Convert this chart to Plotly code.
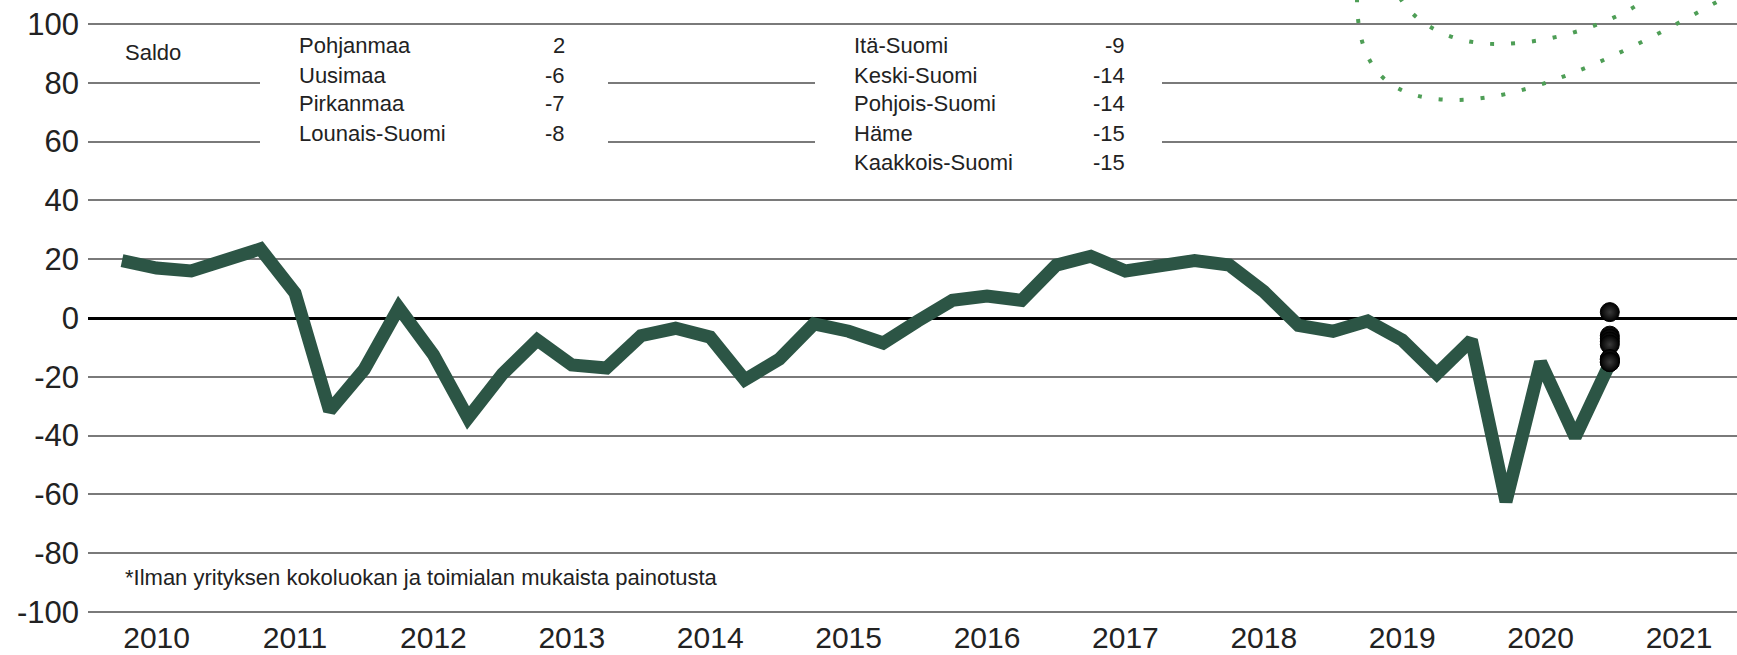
import plotly.graph_objects as go

# ---------------- data ----------------
years = list(range(2010, 2021))
periods = [f"{y}Q{q}" for y in years for q in range(1, 5)]
saldo = [19.5, 17, 16, 20, 23.5, 8.5, -31.5, -17.5, 3.5, -12.5, -34, -19,
         -7.5, -16, -17, -6, -3.5, -6.5, -21, -14, -2, -4.5, -8.5, -1,
         6, 7.5, 6, 18, 21, 16, 18, 19.5, 18, 9, -2.5, -4.5,
         -1, -7.5, -19, -7.5, -62.5, -15, -40.5, -15.5]
regions = ["Pohjanmaa", "Uusimaa", "Pirkanmaa", "Lounais-Suomi",
           "Itä-Suomi", "Keski-Suomi", "Pohjois-Suomi", "Häme", "Kaakkois-Suomi"]
region_values = [2, -6, -7, -8, -9, -14, -14, -15, -15]
tick_years = [str(y) for y in range(2010, 2022)]
y_ticks = list(range(-100, 101, 20))
y_ticktext = [str(v) for v in y_ticks]

# ---------------- geometry helpers ----------------
W, H = 1737, 655
ML, MR, MT, MB = 88, 0, 20, 40
PW, PH = W - ML - MR, H - MT - MB
K_Y = 2.94      # px per y unit
Y_ZERO = 318    # pixel row of value 0
K_X = 34.6      # px per quarter
X_FIRST = 122   # pixel column of first data point


def px(x):
    return (x - ML) / PW


def py(y):
    return 1 - (y - MT) / PH


FONT = "Liberation Sans, Arial, sans-serif"
TXT = "#222222"

xs = list(range(len(saldo)))
last_x = xs[-1]

fig = go.Figure()
fig.add_trace(go.Scatter(
    x=xs, y=saldo, mode="lines",
    line=dict(color="#2c5545", width=13),
    hoverinfo="skip", showlegend=False))
fig.add_trace(go.Scatter(
    x=[last_x] * len(region_values), y=region_values, mode="markers",
    marker=dict(size=19, color="#000000",
                gradient=dict(type="radial", color="#3a3a3a"),
                line=dict(color="#000000", width=1)),
    hoverinfo="skip", showlegend=False))

shapes = []
# white boxes behind the text blocks (they interrupt the gridlines)
for (x0, x1, y0, y1) in [(260, 608, 33, 152), (815, 1162, 33, 178)]:
    shapes.append(dict(type="rect", xref="paper", yref="paper",
                       x0=px(x0), x1=px(x1), y0=py(y1), y1=py(y0),
                       fillcolor="white", line=dict(width=0), layer="above"))


def bez_path(pts):
    (sx, sy) = pts[0]
    s = f"M {px(sx)},{py(sy)}"
    for i in range(1, len(pts), 3):
        c1, c2, e = pts[i], pts[i + 1], pts[i + 2]
        s += (f" C {px(c1[0])},{py(c1[1])} {px(c2[0])},{py(c2[1])}"
              f" {px(e[0])},{py(e[1])}")
    return s


deco = [
    [(1400, -2), (1420, 30), (1460, 44), (1496, 44), (1550, 44), (1610, 25), (1648, -2)],
    [(1357, -2), (1357, 60), (1380, 100), (1455, 100), (1540, 100), (1650, 40), (1745, -14)],
]
for pts in deco:
    shapes.append(dict(type="path", xref="paper", yref="paper",
                       path=bez_path(pts),
                       line=dict(color="#4e9e56", width=4, dash="4px,17px"),
                       layer="above"))

ann = []
ann.append(dict(text="Saldo", x=px(123), y=py(52), xanchor="left", yanchor="middle"))
row_y = [46, 75.5, 104, 133, 162.5]
for i, (r, v) in enumerate(zip(regions, region_values)):
    col = 0 if i < 4 else 1
    row = i if i < 4 else i - 4
    lx = 297 if col == 0 else 852
    rx = 567 if col == 0 else 1127
    ann.append(dict(text=r, x=px(lx), y=py(row_y[row]), xanchor="left", yanchor="middle"))
    ann.append(dict(text=str(v), x=px(rx), y=py(row_y[row]), xanchor="right", yanchor="middle"))
ann.append(dict(text="*Ilman yrityksen kokoluokan ja toimialan mukaista painotusta",
                x=px(123), y=py(577), xanchor="left", yanchor="middle"))
for a in ann:
    a.update(xref="paper", yref="paper", showarrow=False,
             font=dict(family=FONT, size=22, color=TXT))

fig.update_layout(
    width=W, height=H,
    margin=dict(l=ML, r=MR, t=MT, b=MB, pad=0, autoexpand=False),
    paper_bgcolor="white", plot_bgcolor="white",
    shapes=shapes, annotations=ann,
    xaxis=dict(range=[(ML - X_FIRST) / K_X, (W - MR - X_FIRST) / K_X],
               tickvals=[4 * k + 1 for k in range(len(tick_years))],
               ticktext=tick_years, showgrid=False, zeroline=False,
               showline=False, ticks="", ticklabelstandoff=2, automargin=False,
               tickfont=dict(family=FONT, size=30, color=TXT)),
    yaxis=dict(range=[(Y_ZERO - (H - MB)) / K_Y, (Y_ZERO - MT) / K_Y],
               tickvals=y_ticks, ticktext=y_ticktext,
               showgrid=True, gridcolor="#7a7a7a", gridwidth=2,
               zeroline=True, zerolinecolor="#000000", zerolinewidth=3,
               showline=False, ticks="", ticklabelstandoff=8, automargin=False,
               tickfont=dict(family=FONT, size=31, color=TXT)),
)

fig.write_html("out.html", config={"displayModeBar": False},
               post_script="document.body.style.margin='0';document.body.style.overflow='hidden';")
